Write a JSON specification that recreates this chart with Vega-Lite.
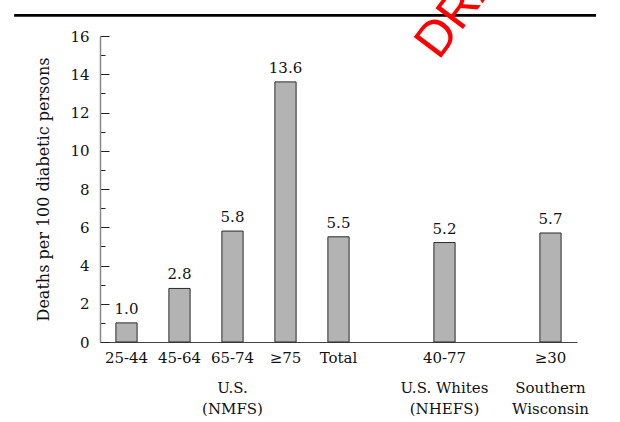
{
  "$schema": "https://vega.github.io/schema/vega-lite/v6.json",
  "width": 477,
  "height": 306,
  "autosize": {"type": "none"},
  "padding": {"left": 100, "top": 36, "right": 43, "bottom": 80},
  "background": "white",
  "config": {
    "view": {"stroke": null},
    "font": "DejaVu Serif",
    "axisY": {
      "titleFontSize": 16,
      "titleFontWeight": "normal",
      "titleColor": "#111",
      "titlePadding": 18,
      "labelOverlap": false,
      "labelFontSize": 15,
      "labelColor": "#111",
      "labelPadding": 20,
      "grid": false,
      "ticks": true,
      "tickSize": {"condition": {"test": "datum.value % 2 === 0", "value": -9}, "value": -5},
      "tickColor": "#222",
      "tickWidth": 1,
      "domainColor": "#888",
      "domainWidth": 1.5
    }
  },
  "layer": [
    {
      "layer": [
        {
          "data": {
            "values": [
              {"group": "25-44", "deaths": 1.0},
              {"group": "45-64", "deaths": 2.8},
              {"group": "65-74", "deaths": 5.8},
              {"group": "≥75", "deaths": 13.6},
              {"group": "Total", "deaths": 5.5},
              {"group": "40-77", "deaths": 5.2},
              {"group": "≥30", "deaths": 5.7}
            ]
          },
          "layer": [
            {
              "mark": {"type": "bar", "fill": "#b3b3b3", "stroke": "#2a2a2a", "strokeWidth": 1},
              "encoding": {
                "x": {
                  "field": "group",
                  "type": "nominal",
                  "sort": null,
                  "scale": {
                    "domain": ["25-44", "45-64", "65-74", "≥75", "Total", " ", "40-77", "  ", "≥30"],
                    "paddingInner": 0.6,
                    "paddingOuter": 0.3
                  },
                  "axis": {
                    "title": null,
                    "labelAngle": 0,
                    "ticks": false,
                    "labelPadding": 8,
                    "labelFontSize": 15,
                    "labelColor": "#111",
                    "domainColor": "#444",
                    "domainWidth": 1
                  }
                },
                "y": {
                  "field": "deaths",
                  "type": "quantitative",
                  "scale": {"domain": [0, 16], "nice": false},
                  "axis": {
                    "title": "Deaths per 100 diabetic persons",
                    "values": [0, 1, 2, 3, 4, 5, 6, 7, 8, 9, 10, 11, 12, 13, 14, 15, 16],
                    "labelExpr": "datum.value % 2 === 0 ? datum.label : ''"
                  }
                }
              }
            },
            {
              "mark": {"type": "text", "baseline": "alphabetic", "dy": -9, "fontSize": 15, "color": "#111"},
              "encoding": {
                "x": {"field": "group", "type": "nominal", "sort": null},
                "y": {
                  "field": "deaths",
                  "type": "quantitative",
                  "axis": {
                    "title": "Deaths per 100 diabetic persons",
                    "values": [0, 1, 2, 3, 4, 5, 6, 7, 8, 9, 10, 11, 12, 13, 14, 15, 16],
                    "labelExpr": "datum.value % 2 === 0 ? datum.label : ''"
                  }
                },
                "text": {"field": "deaths", "type": "quantitative", "format": ".1f"}
              }
            }
          ]
        },
        {
          "data": {
            "values": [
              {"at": "65-74", "label": "U.S.\n(NMFS)"},
              {"at": "40-77", "label": "U.S. Whites\n(NHEFS)"},
              {"at": "≥30", "label": "Southern\nWisconsin"}
            ]
          },
          "mark": {"type": "text", "baseline": "middle", "lineBreak": "\n", "lineHeight": 21, "fontSize": 15, "color": "#111"},
          "encoding": {
            "x": {"field": "at", "type": "nominal", "sort": null},
            "y": {
              "datum": -2.41,
              "axis": {
                "title": "Deaths per 100 diabetic persons",
                "values": [0, 1, 2, 3, 4, 5, 6, 7, 8, 9, 10, 11, 12, 13, 14, 15, 16],
                "labelExpr": "datum.value % 2 === 0 ? datum.label : ''"
              }
            },
            "text": {"field": "label"}
          }
        }
      ]
    },
    {
      "data": {"values": [{"note": "DRAFT"}]},
      "layer": [
        {
          "mark": {"type": "rule", "color": "black", "strokeWidth": 2.7},
          "encoding": {
            "x": {"datum": -90, "type": "quantitative", "scale": {"domain": [0, 477]}, "axis": null},
            "x2": {"datum": 520},
            "y": {
              "datum": 17.08,
              "axis": {
                "title": "Deaths per 100 diabetic persons",
                "values": [0, 1, 2, 3, 4, 5, 6, 7, 8, 9, 10, 11, 12, 13, 14, 15, 16],
                "labelExpr": "datum.value % 2 === 0 ? datum.label : ''"
              }
            }
          }
        },
        {
          "mark": {"type": "text", "font": "Liberation Sans", "fontSize": 50, "color": "#ff0000", "angle": -53, "align": "left", "baseline": "alphabetic"},
          "encoding": {
            "x": {"datum": 355, "type": "quantitative", "axis": null},
            "y": {
              "datum": 14.69,
              "axis": {
                "title": "Deaths per 100 diabetic persons",
                "values": [0, 1, 2, 3, 4, 5, 6, 7, 8, 9, 10, 11, 12, 13, 14, 15, 16],
                "labelExpr": "datum.value % 2 === 0 ? datum.label : ''"
              }
            },
            "text": {"field": "note"}
          }
        }
      ]
    }
  ],
  "resolve": {"scale": {"x": "independent"}, "axis": {"x": "independent"}}
}
